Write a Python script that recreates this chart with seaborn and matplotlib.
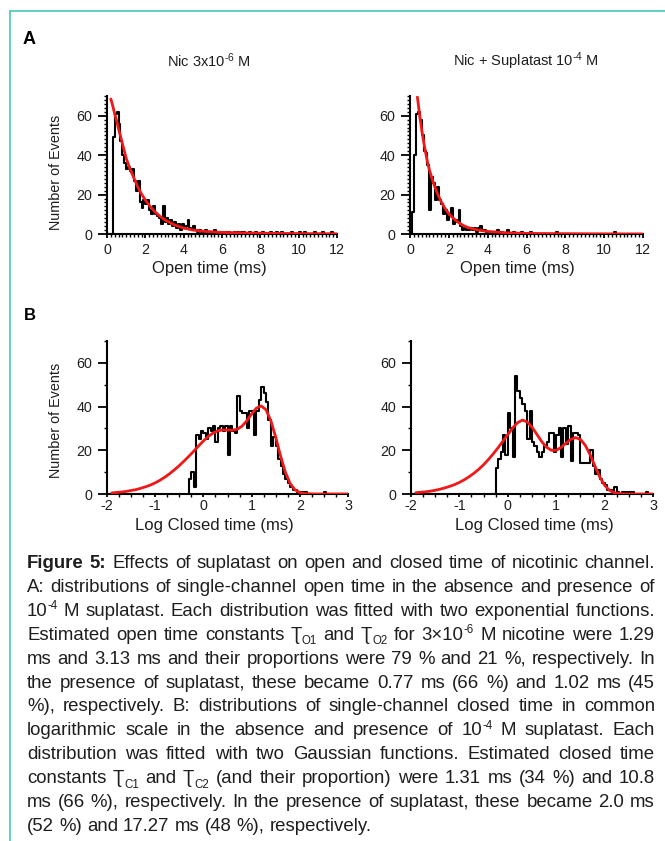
import re
import numpy as np
import pandas as pd
import matplotlib
matplotlib.use("Agg")
import matplotlib.pyplot as plt
from matplotlib.ticker import MultipleLocator
from matplotlib.lines import Line2D
import seaborn as sns

# ---------------- data ----------------
# A: open-time histograms, 0.1 ms bins from 0 to 12 ms
open_bin_width = 0.1
nic_open_counts = [
    0, 0, 0, 49, 61, 62, 56, 47, 40, 36,
    33, 34, 32, 33, 27, 22, 27, 16, 13, 17,
    15, 17, 12, 10, 14, 10, 9, 8, 5, 14,
    6, 8, 5, 7, 4, 6, 3, 5, 2, 5,
    3, 4, 7, 3, 2, 4, 2, 1, 2, 1,
    1, 2, 1, 1, 0, 1, 2, 1, 0, 1,
    1, 0, 1, 1, 0, 0, 1, 0, 1, 0,
    1, 1, 0, 0, 1, 0, 0, 1, 0, 0,
    0, 1, 0, 0, 0, 1, 0, 0, 1, 0,
    0, 1, 0, 0, 0, 0, 1, 0, 0, 0,
    1, 0, 0, 1, 0, 0, 0, 0, 1, 0,
    0, 0, 1, 0, 0, 0, 0, 1, 0, 0,
]
supl_open_counts = [
    0, 11, 40, 61, 62, 58, 50, 42, 41, 35,
    12, 29, 26, 17, 24, 17, 15, 10, 12, 7,
    9, 13, 5, 7, 6, 12, 4, 2, 3, 2,
    2, 3, 2, 3, 1, 3, 4, 2, 2, 1,
    1, 1, 0, 1, 1, 2, 0, 1, 0, 0,
    2, 0, 0, 1, 0, 0, 0, 1, 0, 0,
    0, 0, 1, 0, 0, 0, 0, 0, 0, 0,
    0, 0, 0, 0, 0, 1, 0, 0, 0, 0,
    0, 0, 0, 0, 0, 0, 0, 0, 0, 0,
    0, 0, 0, 0, 0, 0, 0, 0, 0, 0,
    0, 0, 0, 0, 0, 1, 0, 0, 0, 0,
    0, 0, 0, 0, 0, 0, 0, 0, 0, 0,
]
nic_open_fit_x = [0.2, 0.3, 0.4, 0.5, 0.6, 0.8, 1.0, 1.2, 1.4, 1.6, 1.8, 2.0,
                  2.25, 2.5, 2.75, 3.0, 3.5, 4.0, 4.5, 5.0, 6.0, 7.0, 8.0, 10.0, 12.0]
nic_open_fit_y = [68.5, 65.0, 61.0, 57.5, 53.5, 46.0, 38.5, 33.0, 28.5, 24.0, 20.3, 17.2,
                  14.0, 11.3, 9.1, 7.3, 4.7, 3.0, 2.0, 1.4, 0.8, 0.55, 0.4, 0.2, 0.1]
supl_open_fit_x = [0.38, 0.45, 0.5, 0.6, 0.7, 0.8, 0.9, 1.0, 1.2, 1.4, 1.6, 1.8, 2.0,
                   2.25, 2.5, 2.75, 3.0, 3.5, 4.0, 5.0, 6.0, 8.0, 10.0, 12.0]
supl_open_fit_y = [69.5, 64.0, 60.0, 53.0, 47.0, 41.5, 36.5, 32.5, 26.0, 20.8, 16.5, 13.0, 10.3,
                   7.8, 5.8, 4.3, 3.2, 2.0, 1.3, 0.6, 0.3, 0.15, 0.05, 0.0]

# B: log closed-time histograms, 0.05 log-unit bins from -0.35 to 3.0
closed_bin_width = 0.05
closed_first_edge = -0.35
nic_closed_counts = [
    0, 7, 10, 3, 27, 25, 29, 28, 25, 30,
    29, 31, 24, 30, 31, 29, 31, 18, 31, 29,
    28, 45, 38, 37, 37, 30, 38, 38, 27, 38,
    43, 49, 46, 42, 34, 22, 26, 22, 16, 13,
    9, 7, 5, 3, 2, 2, 1, 1, 1, 1,
    0, 0, 0, 0, 0, 0, 0, 1, 0, 0,
    0, 0, 0, 0, 0, 0, 0,
]
supl_closed_counts = [
    0, 0, 12, 16, 19, 27, 18, 37, 30, 17,
    54, 47, 44, 41, 38, 25, 38, 24, 22, 19,
    17, 19, 22, 24, 28, 28, 19, 27, 30, 17,
    30, 23, 31, 15, 28, 28, 27, 14, 14, 14,
    14, 20, 13, 9, 11, 7, 5, 4, 2, 2,
    1, 3, 1, 0, 1, 1, 1, 1, 1, 0,
    0, 0, 0, 0, 1, 0, 0,
]
closed_fit_x = [-1.9, -1.8, -1.7, -1.6, -1.5, -1.4, -1.3, -1.2, -1.1, -1.0,
                -0.9, -0.8, -0.7, -0.6, -0.5, -0.4, -0.3, -0.2, -0.1, 0.0,
                0.1, 0.2, 0.3, 0.4, 0.5, 0.6, 0.7, 0.8, 0.9, 1.0,
                1.1, 1.2, 1.3, 1.4, 1.5, 1.6, 1.7, 1.8, 1.9, 2.0,
                2.1, 2.2, 2.3, 2.4, 2.5, 2.6, 2.7, 2.8, 2.9, 3.0]
nic_closed_fit_y = [0.5, 0.7, 0.9, 1.2, 1.6, 2.0, 2.6, 3.3, 4.1, 5.1,
                    6.3, 7.7, 9.3, 11.1, 13.0, 15.1, 17.3, 19.6, 22.0, 24.3,
                    26.3, 27.9, 28.9, 29.3, 29.3, 29.2, 29.6, 31.0, 33.5, 36.6,
                    39.3, 40.3, 38.5, 33.5, 26.0, 17.5, 10.0, 4.8, 1.9, 0.7,
                    0.2, 0.1, 0.0, 0.0, 0.0, 0.0, 0.0, 0.0, 0.0, 0.0]
supl_closed_fit_y = [0.6, 0.8, 1.0, 1.3, 1.7, 2.2, 2.8, 3.5, 4.3, 5.3,
                     6.5, 7.9, 9.5, 11.3, 13.4, 15.8, 18.4, 21.2, 24.2, 27.2,
                     30.2, 32.6, 33.8, 33.0, 30.6, 27.3, 24.0, 21.4, 20.0, 20.0,
                     21.3, 23.2, 25.0, 25.8, 25.0, 22.3, 18.0, 12.8, 7.8, 4.0,
                     1.7, 0.6, 0.2, 0.05, 0.0, 0.0, 0.0, 0.0, 0.0, 0.0]

panel_titles = ["Nic 3x10$^{\\mathregular{\u2010}\\mathregular{6}}$ M",
                "Nic + Suplatast 10$^{\\mathregular{\u2010}\\mathregular{4}}$ M"]
open_xticks = [0, 2, 4, 6, 8, 10, 12]
closed_xticks = [-2, -1, 0, 1, 2, 3]
count_yticks = [0, 20, 40, 60]

caption_lines = [
    "§Figure §5: Effects of suplatast on open and closed time of nicotinic channel.",
    "A: distributions of single-channel open time in the absence and presence of",
    "10^{-4} M suplatast. Each distribution was fitted with two exponential functions.",
    "Estimated open time constants Ʈ_{O1} and Ʈ_{O2} for 3×10^{-6} M nicotine were 1.29",
    "ms and 3.13 ms and their proportions were 79 % and 21 %, respectively. In",
    "the presence of suplatast, these became 0.77 ms (66 %) and 1.02 ms (45",
    "%), respectively. B: distributions of single-channel closed time in common",
    "logarithmic scale in the absence and presence of 10^{-4} M suplatast. Each",
    "distribution was fitted with two Gaussian functions. Estimated closed time",
    "constants Ʈ_{C1} and Ʈ_{C2} (and their proportion) were 1.31 ms (34 %) and 10.8",
    "ms (66 %), respectively. In the presence of suplatast, these became 2.0 ms",
    "(52 %) and 17.27 ms (48 %), respectively.",
]

# ---------------- style ----------------
sns.set_theme(style="ticks")
FONTS = ["Liberation Sans", "DejaVu Sans"]
plt.rcParams["font.family"] = FONTS
plt.rcParams["mathtext.fontset"] = "custom"
plt.rcParams["mathtext.rm"] = "Liberation Sans"
plt.rcParams["mathtext.it"] = "Liberation Sans:italic"
plt.rcParams["mathtext.bf"] = "Liberation Sans:bold"
plt.rcParams["axes.unicode_minus"] = False

W, H = 665, 841
fig = plt.figure(figsize=(W / 100, H / 100), dpi=100)
fig.patch.set_facecolor("white")
renderer = fig.canvas.get_renderer()

def px_axes(x0, x1, y_top, y_bot):
    return fig.add_axes([x0 / W, 1 - y_bot / H, (x1 - x0) / W, (y_bot - y_top) / H])

axA1 = px_axes(107, 337, 96, 234)
axA2 = px_axes(410, 643, 96, 234)
axB1 = px_axes(107, 348, 341, 494)
axB2 = px_axes(411, 653, 341, 494)

TXT = "#1e1e1e"
RED = "#f01818"

def hist_step(ax, first_edge, width, counts):
    n = len(counts)
    edges = [float(first_edge + width * k) for k in range(n + 1)]
    centers = [e + width / 2 for e in edges[:-1]]
    df = pd.DataFrame({"x": centers, "w": counts})
    sns.histplot(data=df, x="x", weights="w", bins=edges, element="step",
                 fill=False, color="black", linewidth=1.5, ax=ax)

def fit_line(ax, xs, ys):
    df = pd.DataFrame({"x": xs, "y": ys})
    sns.lineplot(data=df, x="x", y="y", color=RED, linewidth=2.0,
                 estimator=None, sort=False, ax=ax, zorder=5)

hist_step(axA1, 0.0, open_bin_width, nic_open_counts)
fit_line(axA1, nic_open_fit_x, nic_open_fit_y)
hist_step(axA2, 0.0, open_bin_width, supl_open_counts)
fit_line(axA2, supl_open_fit_x, supl_open_fit_y)
hist_step(axB1, closed_first_edge, closed_bin_width, nic_closed_counts)
fit_line(axB1, closed_fit_x, nic_closed_fit_y)
hist_step(axB2, closed_first_edge, closed_bin_width, supl_closed_counts)
fit_line(axB2, closed_fit_x, supl_closed_fit_y)

def style_axes(ax, xlim, xticks, xminor, yminor, xlen, xpad):
    ax.set_xlim(*xlim)
    ax.set_ylim(0, 70)
    ax.set_xticks(xticks)
    ax.set_xticklabels([str(t) for t in xticks])
    ax.set_yticks(count_yticks)
    ax.xaxis.set_minor_locator(MultipleLocator(xminor))
    ax.yaxis.set_minor_locator(MultipleLocator(yminor))
    sns.despine(ax=ax)
    for s in ("left", "bottom"):
        ax.spines[s].set_linewidth(1.5)
        ax.spines[s].set_color("black")
    ax.tick_params(axis="x", which="major", length=xlen, width=1.3, direction="out",
                   labelsize=10.3, colors="black", labelcolor=TXT, pad=xpad)
    ax.tick_params(axis="y", which="major", length=6.5, width=1.3, direction="out",
                   labelsize=10.3, colors="black", labelcolor=TXT, pad=4.0)
    ax.tick_params(which="minor", length=2.2, width=1.0, direction="out", colors="black")
    ax.set_xlabel("")
    ax.set_ylabel("")
    ax.set_facecolor("white")
    ax.grid(False)

style_axes(axA1, (0, 12), open_xticks, 0.2, 2, 3.0, 3.5)
style_axes(axA2, (0, 12), open_xticks, 0.2, 2, 3.0, 3.5)
style_axes(axB1, (-2, 3), closed_xticks, 0.25, 10, 2.5, 1.0)
style_axes(axB2, (-2, 3), closed_xticks, 0.25, 10, 2.5, 1.0)

def fig_text(xpx, ypx, s, **kw):
    return fig.text(xpx / W, 1 - ypx / H, s, **kw)

def ax_frac_x(ax, xpx):
    p = ax.get_position()
    return (xpx - p.x0 * W) / (p.width * W)

def ax_frac_y(ax, ypx):
    p = ax.get_position()
    return ((1 - ypx / H) - p.y0) / p.height

# axis labels
for ax, cx in ((axA1, 209), (axA2, 517)):
    ax.set_xlabel("Open time (ms)", fontsize=12, color=TXT)
    ax.xaxis.set_label_coords(ax_frac_x(ax, cx), ax_frac_y(ax, 261))
for ax, cx in ((axB1, 214), (axB2, 534)):
    ax.set_xlabel("Log Closed time (ms)", fontsize=12, color=TXT)
    ax.xaxis.set_label_coords(ax_frac_x(ax, cx), ax_frac_y(ax, 518))
axA1.set_ylabel("Number of Events", fontsize=10.4, color=TXT)
axA1.yaxis.set_label_coords(ax_frac_x(axA1, 63), ax_frac_y(axA1, 172))
axB1.set_ylabel("Number of Events", fontsize=10.4, color=TXT)
axB1.yaxis.set_label_coords(ax_frac_x(axB1, 63), ax_frac_y(axB1, 420))

# panel titles and letters
fig_text(209, 61, panel_titles[0], fontsize=10.5, color=TXT, ha="center", va="center")
fig_text(526, 61, panel_titles[1], fontsize=10.5, color=TXT, ha="center", va="center")
fig_text(23, 40, "A", fontsize=13, fontweight="bold", color="black", ha="left", va="center")
fig_text(24, 316, "B", fontsize=12, fontweight="bold", color="black", ha="left", va="center")

# teal frame lines
TEAL = "#48c8b4"
fig.add_artist(Line2D([9.5 / W, 1.0], [1 - 10.5 / H, 1 - 10.5 / H], transform=fig.transFigure,
                      color=TEAL, linewidth=1.2))
fig.add_artist(Line2D([9.5 / W, 9.5 / W], [1 - 10.5 / H, 0.0], transform=fig.transFigure,
                      color=TEAL, linewidth=1.2))

# ---------------- rich text helpers ----------------
seg_re = re.compile(r"\^\{([^}]*)\}|_\{([^}]*)\}|([^^_]+)")

def parse_word(word):
    bold = False
    if word.startswith("§"):
        bold = True
        word = word[1:]
    segs = []
    for m in seg_re.finditer(word):
        if m.group(1) is not None:
            segs.append((m.group(1), "sup", bold))
        elif m.group(2) is not None:
            segs.append((m.group(2), "sub", bold))
        else:
            segs.append((m.group(3), "n", bold))
    return segs

def measure(s, size, bold):
    t = fig.text(0, 0, s, fontsize=size, fontweight="bold" if bold else "normal")
    w = t.get_window_extent(renderer).width
    t.remove()
    return w

def seg_size(kind, size):
    return size * 0.62 if kind in ("sup", "sub") else size

def line_words(line):
    return [parse_word(w) for w in line.split(" ")]

def word_width(segs, size):
    return sum(measure(s, seg_size(k, size), b) for s, k, b in segs)

def space_width(size):
    return measure("x x", size, False) - measure("xx", size, False)

def draw_words(words, size, x, yb, gap, color=TXT):
    size_px = size * 100 / 72
    for segs in words:
        for s, k, b in segs:
            sz = seg_size(k, size)
            dy = 0.0
            if k == "sup":
                dy = -0.36 * size_px
            elif k == "sub":
                dy = 0.24 * size_px
            fig_text(x, yb + dy, s, fontsize=sz, fontweight="bold" if b else "normal",
                     color=color, ha="left", va="baseline")
            x += measure(s, sz, b)
        x += gap

# ---------------- justified caption ----------------
cap_left, cap_right = 27.0, 655.0
cap_width = cap_right - cap_left
cap_size = 13.4
baseline0 = 568.0
line_step = 23.9
for i, line in enumerate(caption_lines):
    words = line_words(line)
    size = cap_size
    sp = space_width(size)
    widths = [word_width(w, size) for w in words]
    nat = sum(widths) + sp * (len(words) - 1)
    if nat > cap_width:
        size = size * cap_width / nat * 0.995
        sp = space_width(size)
        widths = [word_width(w, size) for w in words]
    if i < len(caption_lines) - 1 and len(words) > 1:
        gap = (cap_width - sum(widths)) / (len(words) - 1)
    else:
        gap = sp
    draw_words(words, size, cap_left, baseline0 + i * line_step, gap)

fig.savefig("out.png", dpi=100, facecolor="white")
